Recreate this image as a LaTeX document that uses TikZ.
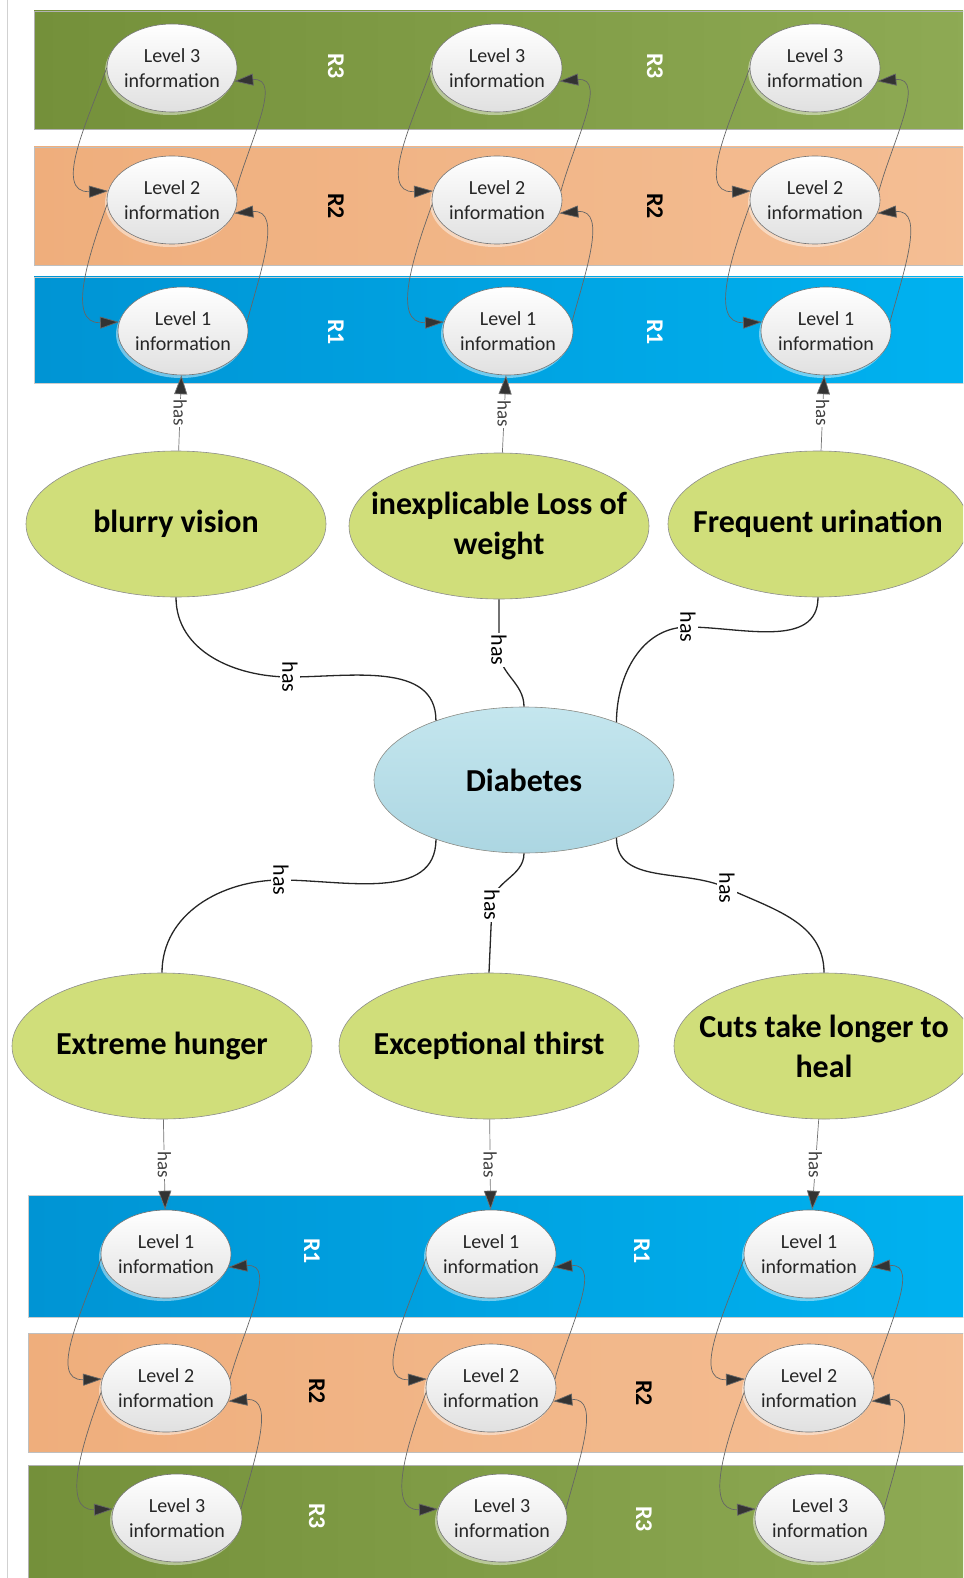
\documentclass[tikz,border=0pt]{standalone}
\usepackage{fontspec}
\setmainfont{Carlito}
\usepackage{tikz}
\usepackage{xcolor}
\usetikzlibrary{arrows.meta}
\usetikzlibrary{shapes.geometric}
\usetikzlibrary{shadows}

\definecolor{olive1}{RGB}{116,144,58}
\definecolor{olive2}{RGB}{142,170,84}
\definecolor{peach1}{RGB}{239,174,124}
\definecolor{peach2}{RGB}{244,190,148}
\definecolor{sky1}{RGB}{0,148,212}
\definecolor{sky2}{RGB}{0,178,240}
\definecolor{lime}{RGB}{208,222,122}
\definecolor{ice1}{RGB}{196,230,238}
\definecolor{ice2}{RGB}{172,214,226}

\tikzset{
	bandR3/.style={left color=olive1,right color=olive2,draw=black!30,line width=0.5pt},
	bandR2/.style={left color=peach1,right color=peach2,draw=black!25,line width=0.5pt},
	bandR1/.style={left color=sky1,right color=sky2,draw=black!20,line width=0.5pt},
	info/.style={ellipse,draw=black!55,line width=0.6pt,top color=white,bottom color=black!12,
		minimum width=130pt,minimum height=88pt,inner xsep=-3pt,inner ysep=0pt,align=center,
		text=black!85,font=\fontsize{20}{25}\selectfont,
		drop shadow={shadow xshift=-2pt,shadow yshift=-3pt,fill=white,opacity=0.45}},
	symptom/.style={ellipse,draw=black!45,line width=0.6pt,fill=lime,
		minimum width=300pt,minimum height=146pt,inner xsep=-30pt,inner ysep=0pt,align=center,
		font=\fontsize{32}{40}\selectfont\bfseries},
	disease/.style={symptom,top color=ice1,bottom color=ice2},
	rlab/.style={rotate=-90,font=\fontsize{24}{28}\selectfont\bfseries},
	haslink/.style={draw=black!85,line width=1.3pt},
	hasmid/.style={rotate=-90,fill=white,inner sep=2pt,font=\fontsize{22}{24}\selectfont},
	haslite/.style={draw=black!55,line width=0.7pt,-{Triangle[length=19pt,width=13pt,fill=black!80]}},
	hassmall/.style={rotate=-90,fill=white,inner sep=1pt,text=black!75,font=\fontsize{19}{22}\selectfont},
	lvl/.style={draw=black!60,line width=0.7pt,looseness=1.15,-{Triangle[length=19pt,width=12pt,fill=black!80]}}
}

\begin{document}
\begin{tikzpicture}[x=1pt,y=1pt]
	\useasboundingbox (0,0) rectangle (963,-1578);
	\clip (0,0) rectangle (963,-1578);
	\draw[black!18,line width=1pt] (7,0) -- (7,-1578);

	% coloured bands
	\path[bandR3] (34,-11) rectangle (975,-129);
	\path[bandR2] (34,-147) rectangle (975,-265);
	\path[bandR1] (34,-277) rectangle (975,-383);
	\path[bandR1] (28,-1195) rectangle (975,-1317);
	\path[bandR2] (28,-1333) rectangle (975,-1452);
	\path[bandR3] (28,-1465) rectangle (975,-1590);

	\node[rlab,white] (r3a) at (336,-66) {R3};
	\node[rlab] (r2a) at (336,-206) {R2};
	\node[rlab,white] (r1a) at (336,-332) {R1};
	\node[rlab,white] (r3b) at (655,-66) {R3};
	\node[rlab] (r2b) at (655,-206) {R2};
	\node[rlab,white] (r1b) at (655,-332) {R1};
	\node[rlab,white] (r1c) at (312,-1251) {R1};
	\node[rlab] (r2c) at (317,-1391) {R2};
	\node[rlab,white] (r3c) at (317,-1516) {R3};
	\node[rlab,white] (r1d) at (642,-1251) {R1};
	\node[rlab] (r2d) at (644,-1393) {R2};
	\node[rlab,white] (r3d) at (644,-1519) {R3};

	% upper levels
	\foreach \c/\x in {a/172,b/497,c/815}{
		\node[info] (\c3) at (\x,-68) {Level 3\\information};
		\node[info] (\c2) at (\x,-200) {Level 2\\information};
		\node[info] (\c1) at (\x+11,-331) {Level 1\\information};
		\draw[lvl] (\c3.180) to[out=250,in=182] (\c2.172);
		\draw[lvl] (\c2.184) to[out=250,in=182] (\c1.172);
		\draw[lvl] (\c1.8) to[out=75,in=5] (\c2.-12);
		\draw[lvl] (\c2.8) to[out=75,in=5] (\c3.-12);
	}

	% lower levels
	\foreach \c/\x in {d/166,e/491,f/809}{
		\node[info] (\c1) at (\x,-1254) {Level 1\\information};
		\node[info] (\c2) at (\x,-1388) {Level 2\\information};
		\node[info] (\c3) at (\x+11,-1518) {Level 3\\information};
		\draw[lvl] (\c1.184) to[out=250,in=182] (\c2.172);
		\draw[lvl] (\c2.184) to[out=250,in=182] (\c3.172);
		\draw[lvl] (\c3.8) to[out=75,in=5] (\c2.-12);
		\draw[lvl] (\c2.8) to[out=75,in=5] (\c1.-12);
	}

	% symptoms
	\node[symptom] (blurry) at (176,-524) {blurry vision};
	\node[symptom] (weight) at (499,-526) {inexplicable Loss of\\weight};
	\node[symptom] (urine) at (818,-524) {Frequent urination};
	\node[disease] (dia) at (524,-780) {Diabetes};
	\node[symptom] (hunger) at (162,-1046) {Extreme hunger};
	\node[symptom] (thirst) at (489,-1046) {Exceptional thirst};
	\node[symptom] (cuts) at (824,-1046) {Cuts take longer to\\heal};

	\draw[haslink] (blurry.south) to[out=-90,in=180] (290,-677) node[hasmid] (h1) {has} to[out=0,in=90] (dia.146);
	\draw[haslink] (weight.south) -- (499,-650) node[hasmid] (h2) {has} to[out=-90,in=90] (dia.north);
	\draw[haslink] (urine.south) to[out=-90,in=0] (688,-627) node[hasmid] (h3) {has} to[out=180,in=90] (dia.32);
	\draw[haslink] (dia.214) to[out=-90,in=0] (281,-880) node[hasmid] (h4) {has} to[out=180,in=90] (hunger.north);
	\draw[haslink] (dia.south) to[out=-90,in=90] (492,-905) node[hasmid] (h5) {has} -- (thirst.north);
	\draw[haslink] (dia.328) to[out=-90,in=155] (727,-888) node[hasmid] (h6) {has} to[out=-25,in=90] (cuts.north);

	\draw[haslite] (blurry) -- node[hassmall] (h7) {has} (a1);
	\draw[haslite] (weight) -- node[hassmall] (h8) {has} (b1);
	\draw[haslite] (urine) -- node[hassmall] (h9) {has} (c1);
	\draw[haslite] (hunger) -- node[hassmall] (h10) {has} (d1);
	\draw[haslite] (thirst) -- node[hassmall] (h11) {has} (e1);
	\draw[haslite] (cuts) -- node[hassmall] (h12) {has} (f1);
\end{tikzpicture}
\end{document}
